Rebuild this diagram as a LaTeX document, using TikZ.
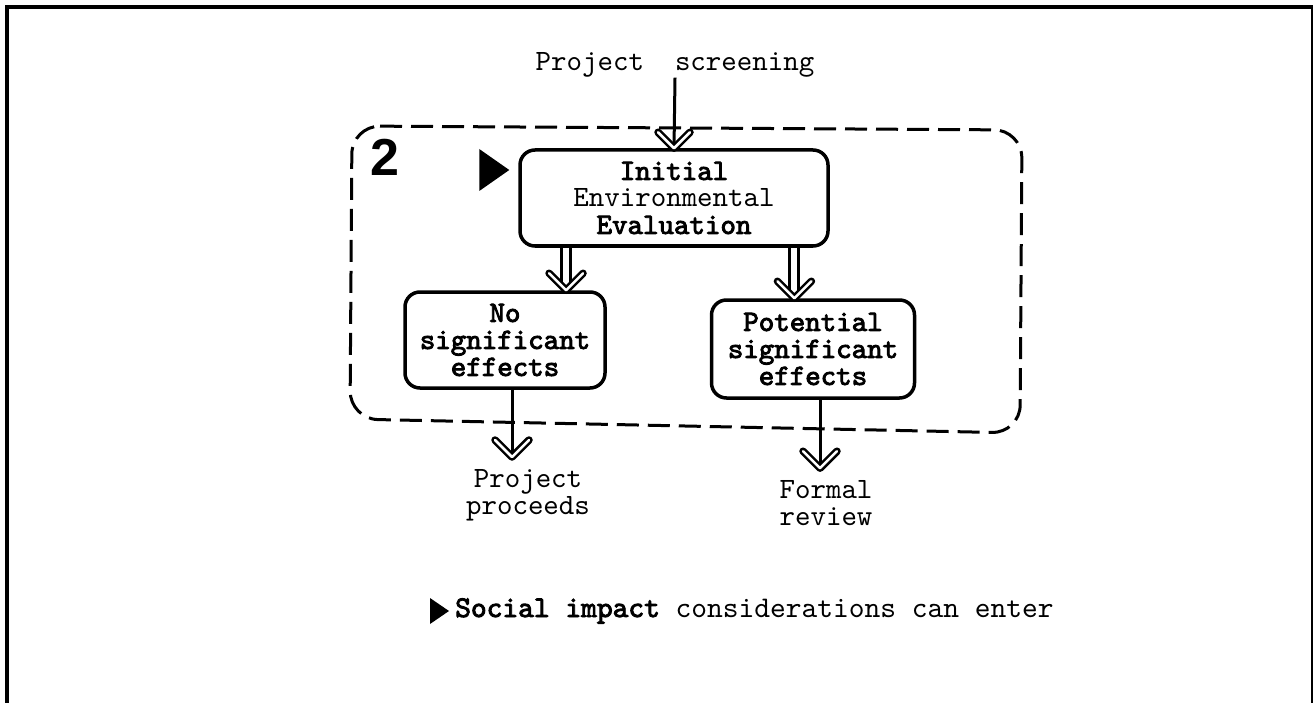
\documentclass[tikz,border=0pt]{standalone}
\usepackage{fontspec}
\setmainfont{Liberation Sans}
\setsansfont{Liberation Sans}
\setmonofont{lmmono10-regular.otf}[
  BoldFont=lmmono10-regular.otf, BoldFeatures={FakeBold=3}]
\usetikzlibrary{calc}

\tikzset{
  pics/chev/.style={code={
    \draw[line width=7.5pt, line cap=round, line join=round] (-#1,-#1) -- (0,0) -- (#1,-#1);
    \draw[white, line width=2.5pt, line cap=round, line join=round] (-#1,-#1) -- (0,0) -- (#1,-#1);
  }}
}

\begin{document}
\begin{tikzpicture}[x=1pt, y=-1pt,
  tw/.style={font=\fontsize{29.5}{27}\selectfont\ttfamily, align=center, inner sep=0pt},
  twb/.style={font=\fontsize{29.5}{27}\selectfont\ttfamily\bfseries, align=center, inner sep=0pt},
  box/.style={draw, line width=3.5pt, rounded corners=15pt},
  shaft/.style={line width=3pt},
  dshaft/.style={double, double distance=6pt, line width=3pt},
  region/.style={line width=3pt, dash pattern=on 22pt off 9pt, rounded corners=28pt}]
\useasboundingbox (0,0) rectangle (1313,703);

% page frame
\draw[line width=4pt] (6.5,703) -- (6.5,7) -- (1313,7);
\draw[line width=2pt] (1312,7) -- (1312,703);

% stage 2 region
\draw[region] (352,126) -- (1022,130) -- (1020,433) -- (350,419) -- cycle;
\node[font=\fontsize{52}{52}\selectfont\bfseries\sffamily, inner sep=0pt] (num) at (385,157) {2};

% nodes
\node[tw] (ps) at (675,65) {Project\ \ screening};
\node[box, tw, minimum width=308pt, minimum height=96pt] (iee) at (674,198)
  {\textbf{Initial}\\Environmental\\\textbf{Evaluation}};
\node[box, twb, minimum width=200pt, minimum height=96pt] (nse) at (505,340)
  {No\\significant\\effects};
\node[box, twb, minimum width=203pt, minimum height=98pt] (pse) at (813,349)
  {Potential\\significant\\effects};
\node[tw] (pp) at (528,495) {Project\\proceeds};
\node[tw] (fr) at (826,503) {Formal\\review};

% entry marker
\fill ($(iee.west)+(-9,-28)$) -- ++(-30,-21) -- ++(0,42) -- cycle;

% connectors
\draw[shaft] (ps.south) -- (iee.north);
\pic at (iee.north) {chev=16};

\path (nse.north west) -- (nse.north east) coordinate[pos=0.8] (a1);
\path (pse.north west) -- (pse.north east) coordinate[pos=0.41] (a2);
\draw[dshaft] (a1 |- iee.south) -- ($(a1)+(0,-8)$);
\pic at (a1) {chev=17};
\draw[dshaft] (a2 |- iee.south) -- ($(a2)+(0,-8)$);
\pic at (a2) {chev=17};

\coordinate (b1) at ($(nse.south)+(7,0)$);
\coordinate (b2) at ($(pse.south)+(7,0)$);
\draw[shaft] (b1) -- ($(b1 |- pp.north)+(0,-12)$);
\pic at ($(b1 |- pp.north)+(0,-12)$) {chev=17};
\draw[shaft] (b2) -- ($(b2 |- fr.north)+(0,-12)$);
\pic at ($(b2 |- fr.north)+(0,-12)$) {chev=17};

% social impact note
\node[anchor=base west, font=\fontsize{30}{30}\selectfont\ttfamily, inner sep=0pt] (soc) at (455,617)
  {\textbf{Social impact} considerations can enter};
\fill ($(soc.west)+(-6,0)$) -- ++(-19,-13) -- ++(0,26) -- cycle;
\end{tikzpicture}
\end{document}
